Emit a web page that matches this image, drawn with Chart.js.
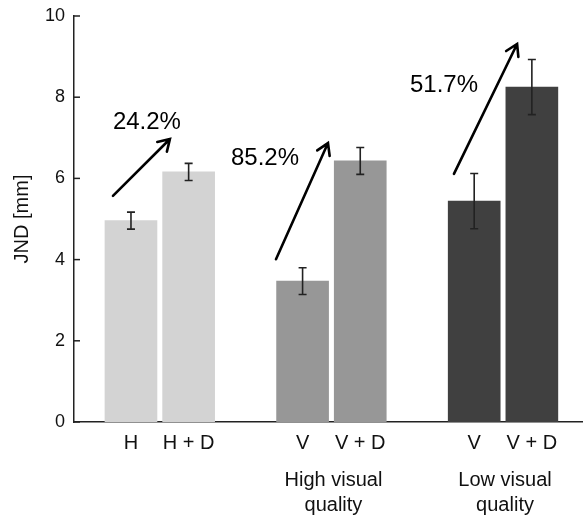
<!DOCTYPE html>
<html>
<head>
<meta charset="utf-8">
<script src="https://cdn.jsdelivr.net/npm/chart.js@4.4.0/dist/chart.umd.min.js"></script>
<style>
  body { margin: 0; background: #fff; }
</style>
</head>
<body>
<canvas id="chart-1" width="583" height="516"></canvas>
<script>
// bar data (JND in mm), one entry per bar
const conditions = ['H', 'H + D', 'V', 'V + D', 'V', 'V + D'];
const groupOf = [1, 1, 2, 2, 3, 3];
const sideOf = [-1, 1, -1, 1, -1, 1];
const jnd = [4.96, 6.16, 3.47, 6.43, 5.44, 8.25];
const jndErr = [0.21, 0.21, 0.33, 0.33, 0.68, 0.68];
const barColors = ['#d3d3d3', '#d3d3d3', '#979797', '#979797', '#404040', '#404040'];

// groups and y ticks
const groupNames = [[], ['High visual', 'quality'], ['Low visual', 'quality']];
const yTicks = [0, 2, 4, 6, 8, 10];

// increase arrows (data coords)
const increases = ['24.2%', '85.2%', '51.7%'];
const arrowFrom = [[0.727, 5.57], [1.677, 4.01], [2.714, 6.11]];
const arrowTo = [[1.059, 6.97], [1.980, 6.87], [3.082, 9.31]];
const labelAt = [[0.925, 7.39], [1.613, 6.50], [2.656, 8.30]];

const FONT = '"Liberation Sans", Arial, sans-serif';
const INK = '#111';
const PAIR_OFFSET = 0.168;

const points = jnd.map((v, i) => ({ x: groupOf[i] + sideOf[i] * PAIR_OFFSET, y: v }));

const extras = {
  id: 'extras',
  afterDatasetsDraw(chart) {
    const { ctx, scales: { x, y } } = chart;
    const meta = chart.getDatasetMeta(0);
    ctx.save();

    // error bars
    ctx.strokeStyle = '#222';
    ctx.lineWidth = 1.6;
    meta.data.forEach((bar, i) => {
      const top = y.getPixelForValue(jnd[i] + jndErr[i]);
      const bot = y.getPixelForValue(jnd[i] - jndErr[i]);
      ctx.beginPath();
      ctx.moveTo(bar.x, top); ctx.lineTo(bar.x, bot);
      ctx.moveTo(bar.x - 4, top); ctx.lineTo(bar.x + 4, top);
      ctx.moveTo(bar.x - 4, bot); ctx.lineTo(bar.x + 4, bot);
      ctx.stroke();
    });

    // inward y ticks
    ctx.strokeStyle = '#222';
    ctx.lineWidth = 1.5;
    yTicks.forEach(t => {
      const py = y.getPixelForValue(t);
      ctx.beginPath();
      ctx.moveTo(x.left, py); ctx.lineTo(x.left + 6, py);
      ctx.stroke();
    });

    // bar labels and group names
    ctx.fillStyle = INK;
    ctx.textAlign = 'center';
    ctx.textBaseline = 'middle';
    ctx.font = '20px ' + FONT;
    meta.data.forEach((bar, i) => ctx.fillText(conditions[i], bar.x, 443));
    groupNames.forEach((lines, g) => {
      const gx = x.getPixelForValue(g + 1);
      lines.forEach((line, k) => ctx.fillText(line, gx + 2, 480 + k * 25));
    });

    // arrows with percentage labels
    ctx.strokeStyle = '#000';
    ctx.lineWidth = 2.6;
    ctx.lineCap = 'round';
    increases.forEach((txt, i) => {
      const x0 = x.getPixelForValue(arrowFrom[i][0]), y0 = y.getPixelForValue(arrowFrom[i][1]);
      const x1 = x.getPixelForValue(arrowTo[i][0]), y1 = y.getPixelForValue(arrowTo[i][1]);
      const a = Math.atan2(y1 - y0, x1 - x0);
      ctx.beginPath();
      ctx.moveTo(x0, y0); ctx.lineTo(x1, y1);
      ctx.moveTo(x1 - 13 * Math.cos(a - 0.55), y1 - 13 * Math.sin(a - 0.55));
      ctx.lineTo(x1, y1);
      ctx.lineTo(x1 - 13 * Math.cos(a + 0.55), y1 - 13 * Math.sin(a + 0.55));
      ctx.stroke();
      ctx.font = '24px ' + FONT;
      ctx.fillStyle = '#000';
      ctx.fillText(txt, x.getPixelForValue(labelAt[i][0]), y.getPixelForValue(labelAt[i][1]));
    });
    ctx.restore();
  }
};

const ctx1 = document.getElementById('chart-1').getContext('2d');
const myChart = new Chart(ctx1, {
  type: 'bar',
  data: {
    datasets: [{
      label: 'JND',
      data: points,
      backgroundColor: barColors,
      barThickness: 52,
    }],
  },
  options: {
    responsive: false,
    animation: false,
    layout: { padding: { top: 16, left: 0, right: 0, bottom: 0 } },
    plugins: { legend: { display: false }, tooltip: { enabled: false } },
    scales: {
      x: {
        type: 'linear',
        offset: false,
        min: 0.5,
        max: 3.466,
        grid: { display: false, drawTicks: false, offset: false },
        border: { display: true, color: '#222', width: 1.5 },
        ticks: { display: false },
        afterFit: s => { s.height = 94; },
      },
      y: {
        min: 0,
        max: 10,
        grid: { display: false, drawTicks: false },
        border: { display: true, color: '#222', width: 1.5 },
        afterBuildTicks: s => { s.ticks = yTicks.map(v => ({ value: v })); },
        ticks: { color: INK, padding: 9, font: { family: FONT, size: 18 } },
        title: { display: true, text: 'JND [mm]', color: INK, padding: { top: 10, bottom: 0 }, font: { family: FONT, size: 20 } },
        afterFit: s => { s.width = 74; s.paddingTop = 0; s.paddingBottom = 0; },
      },
    },
  },
  plugins: [extras],
});
</script>
</body>
</html>
